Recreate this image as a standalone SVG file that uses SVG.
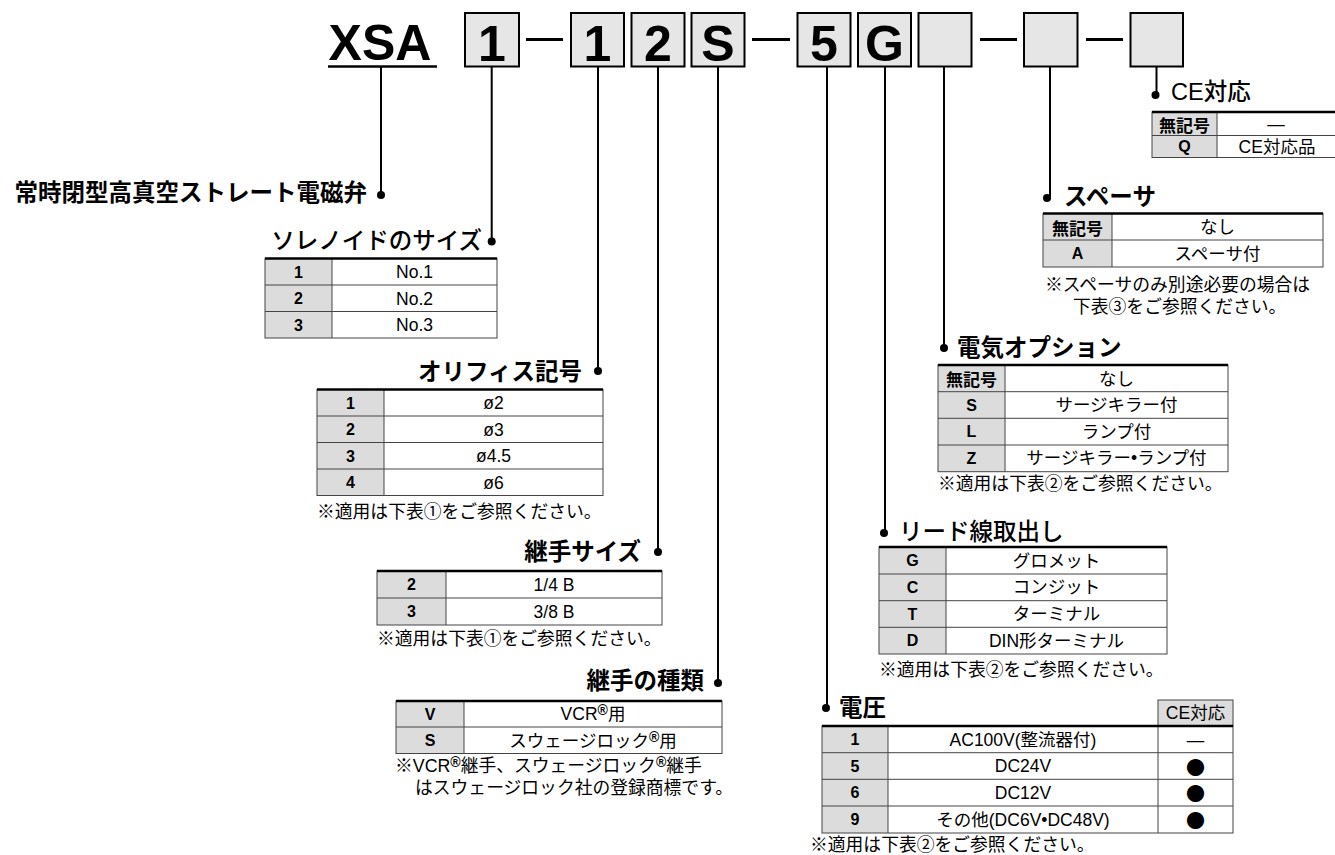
<svg xmlns="http://www.w3.org/2000/svg" width="1335" height="855" viewBox="0 0 1335 855">
<style>
.big{font-family:"Liberation Sans",Arial,sans-serif;font-weight:700;font-size:50px;text-anchor:middle;fill:#000}
.box{fill:#e6e6e6;stroke:#000;stroke-width:2}
.h{font-family:"Liberation Sans","Noto Sans CJK JP",sans-serif;font-size:23.5px;font-weight:700;dominant-baseline:central;fill:#000}
.hm{font-weight:500}
.e{text-anchor:end}
.v{font-family:"Liberation Sans","Noto Sans CJK JP",sans-serif;font-size:17.5px;text-anchor:middle;dominant-baseline:central;fill:#000}
.b{font-family:"Noto Sans CJK JP",sans-serif;font-size:19px}
.k{font-family:"Liberation Sans",Arial,sans-serif;font-size:16px;font-weight:700;text-anchor:middle;dominant-baseline:central;fill:#000}
.kj{font-family:"Noto Sans CJK JP",sans-serif;font-size:17px;font-weight:700;text-anchor:middle;dominant-baseline:central;fill:#000}
.n{font-family:"Liberation Sans","Noto Sans CJK JP",sans-serif;font-size:17.8px;dominant-baseline:central;fill:#000}
.kc{fill:#dcdcdc}
.ln{stroke:#444;stroke-width:1;fill:none}
.top{stroke:#000;stroke-width:2.5}
.cn{stroke:#000;stroke-width:2;fill:none}
.dot{fill:#000}
.dash{stroke:#000;stroke-width:3}
.r{font-size:14px;font-weight:700}
</style>

<g id="title">
<text class="big" x="380" y="60" font-size="52">XSA</text>
<line x1="328" y1="66.5" x2="437" y2="66.5" stroke="#000" stroke-width="2.5"/>
</g>

<g id="code-boxes">
<rect class="box" x="465" y="13" width="54" height="53.5"/>
<text class="big" x="492" y="61">1</text>
<line class="dash" x1="526" y1="39.5" x2="563" y2="39.5"/>
<rect class="box" x="571" y="13" width="53" height="53.5"/>
<text class="big" x="597.5" y="61">1</text>
<rect class="box" x="631.5" y="13" width="53" height="53.5"/>
<text class="big" x="658" y="61">2</text>
<rect class="box" x="691.5" y="13" width="53" height="53.5"/>
<text class="big" x="718" y="61">S</text>
<line class="dash" x1="752" y1="39.5" x2="790" y2="39.5"/>
<rect class="box" x="797.5" y="13" width="53" height="53.5"/>
<text class="big" x="824" y="61">5</text>
<rect class="box" x="858" y="13" width="53" height="53.5"/>
<text class="big" x="884.5" y="61">G</text>
<rect class="box" x="918.5" y="13" width="53" height="53.5"/>
<line class="dash" x1="980" y1="39.5" x2="1017" y2="39.5"/>
<rect class="box" x="1024" y="13" width="53.5" height="53.5"/>
<line class="dash" x1="1086" y1="39.5" x2="1123" y2="39.5"/>
<rect class="box" x="1130.5" y="13" width="52.5" height="53.5"/>
</g>

<g id="connectors">
<line class="cn" x1="381" y1="67" x2="381" y2="195"/><circle class="dot" cx="381" cy="195" r="4"/>
<line class="cn" x1="491.7" y1="67" x2="491.7" y2="241.5"/><circle class="dot" cx="491.7" cy="241.5" r="4"/>
<line class="cn" x1="598" y1="67" x2="598" y2="371"/><circle class="dot" cx="598" cy="371" r="4"/>
<line class="cn" x1="658" y1="67" x2="658" y2="552"/><circle class="dot" cx="658" cy="552" r="4"/>
<line class="cn" x1="718" y1="67" x2="718" y2="683"/><circle class="dot" cx="718" cy="683" r="4"/>
<line class="cn" x1="827" y1="67" x2="827" y2="708"/><circle class="dot" cx="826" cy="708" r="4"/>
<line class="cn" x1="885" y1="67" x2="885" y2="533"/><circle class="dot" cx="884" cy="533" r="4"/>
<line class="cn" x1="944" y1="67" x2="944" y2="348"/><circle class="dot" cx="944" cy="348" r="4"/>
<line class="cn" x1="1050" y1="67" x2="1050" y2="198"/><circle class="dot" cx="1047" cy="198" r="4"/>
<line class="cn" x1="1156.5" y1="67" x2="1156.5" y2="94"/><circle class="dot" cx="1155.5" cy="95" r="4"/>
</g>

<g id="n-series">
<text class="h e" x="367" y="193">常時閉型高真空ストレート電磁弁</text>
</g>

<g id="n-solenoid">
<text class="h hm e" x="482" y="241">ソレノイドのサイズ</text>
<rect class="kc" x="265" y="258.5" width="67" height="79.5"/>
<rect class="ln" x="265" y="258.5" width="232" height="79.5"/>
<line class="ln" x1="332" y1="258.5" x2="332" y2="338"/>
<line class="ln" x1="265" y1="285" x2="497" y2="285"/>
<line class="ln" x1="265" y1="311.5" x2="497" y2="311.5"/>
<line class="top" x1="265" y1="258.5" x2="497" y2="258.5"/>
<text class="k" x="298.5" y="272">1</text><text class="v" x="414.5" y="272">No.1</text>
<text class="k" x="298.5" y="298.5">2</text><text class="v" x="414.5" y="298.5">No.2</text>
<text class="k" x="298.5" y="325">3</text><text class="v" x="414.5" y="325">No.3</text>
</g>

<g id="n-orifice">
<text class="h e" x="582" y="372">オリフィス記号</text>
<rect class="kc" x="317" y="389.5" width="67" height="106"/>
<rect class="ln" x="317" y="389.5" width="286" height="106"/>
<line class="ln" x1="384" y1="389.5" x2="384" y2="495.5"/>
<line class="ln" x1="317" y1="416" x2="603" y2="416"/>
<line class="ln" x1="317" y1="442.5" x2="603" y2="442.5"/>
<line class="ln" x1="317" y1="469" x2="603" y2="469"/>
<line class="top" x1="317" y1="389.5" x2="603" y2="389.5"/>
<text class="k" x="350.5" y="403">1</text><text class="v" x="493.5" y="403">ø2</text>
<text class="k" x="350.5" y="429.5">2</text><text class="v" x="493.5" y="429.5">ø3</text>
<text class="k" x="350.5" y="456">3</text><text class="v" x="493.5" y="456">ø4.5</text>
<text class="k" x="350.5" y="482.5">4</text><text class="v" x="493.5" y="482.5">ø6</text>
<text class="n" x="317" y="512">※適用は下表①をご参照ください。</text>
</g>

<g id="n-port-size">
<text class="h e" x="641" y="552">継手サイズ</text>
<rect class="kc" x="377" y="571" width="69" height="54"/>
<rect class="ln" x="377" y="571" width="285" height="54"/>
<line class="ln" x1="446" y1="571" x2="446" y2="625"/>
<line class="ln" x1="377" y1="598" x2="662" y2="598"/>
<line class="top" x1="377" y1="571" x2="662" y2="571"/>
<text class="k" x="411.5" y="584.5">2</text><text class="v" x="554" y="584.5">1/4 B</text>
<text class="k" x="411.5" y="611.5">3</text><text class="v" x="554" y="611.5">3/8 B</text>
<text class="n" x="377" y="639">※適用は下表①をご参照ください。</text>
</g>

<g id="n-port-type">
<text class="h e" x="704" y="681">継手の種類</text>
<rect class="kc" x="396" y="701" width="68" height="52.5"/>
<rect class="ln" x="396" y="701" width="326" height="52.5"/>
<line class="ln" x1="464" y1="701" x2="464" y2="753.5"/>
<line class="ln" x1="396" y1="727" x2="722" y2="727"/>
<line class="top" x1="396" y1="701" x2="722" y2="701"/>
<text class="k" x="430" y="714">V</text><text class="v" x="593" y="714">VCR<tspan class="r" dy="-4">®</tspan><tspan dy="4">用</tspan></text>
<text class="k" x="430" y="740.5">S</text><text class="v" x="593" y="740.5">スウェージロック<tspan class="r" dy="-4">®</tspan><tspan dy="4">用</tspan></text>
<text class="n" x="395" y="766">※VCR<tspan class="r" dy="-4">®</tspan><tspan dy="4">継手、スウェージロック</tspan><tspan class="r" dy="-4">®</tspan><tspan dy="4">継手</tspan></text>
<text class="n" x="415" y="788">はスウェージロック社の登録商標です。</text>
</g>

<g id="n-ce">
<text class="h hm" x="1171" y="92">CE対応</text>
<rect class="kc" x="1152" y="112" width="65" height="45.5"/>
<rect class="ln" x="1152" y="112" width="190" height="45.5"/>
<line class="ln" x1="1217" y1="112" x2="1217" y2="157.5"/>
<line class="ln" x1="1152" y1="135.5" x2="1336" y2="135.5"/>
<line class="top" x1="1152" y1="112" x2="1336" y2="112"/>
<text class="kj" x="1184.5" y="124">無記号</text><text class="v" x="1276" y="124">―</text>
<text class="k" x="1184.5" y="146.5">Q</text><text class="v" x="1277" y="146.5">CE対応品</text>
</g>

<g id="n-spacer">
<text class="h" x="1064" y="197">スペーサ</text>
<rect class="kc" x="1043" y="213.5" width="69" height="53.5"/>
<rect class="ln" x="1043" y="213.5" width="280" height="53.5"/>
<line class="ln" x1="1112" y1="213.5" x2="1112" y2="267"/>
<line class="ln" x1="1043" y1="240" x2="1323" y2="240"/>
<line class="top" x1="1043" y1="213.5" x2="1323" y2="213.5"/>
<text class="kj" x="1077.5" y="227">無記号</text><text class="v" x="1217.5" y="227">なし</text>
<text class="k" x="1077.5" y="253.5">A</text><text class="v" x="1217.5" y="253.5">スペーサ付</text>
<text class="n" x="1045" y="285">※スペーサのみ別途必要の場合は</text>
<text class="n" x="1073" y="307">下表③をご参照ください。</text>
</g>

<g id="n-electrical">
<text class="h" x="957" y="348">電気オプション</text>
<rect class="kc" x="938" y="365" width="67" height="106.7"/>
<rect class="ln" x="938" y="365" width="290" height="106.7"/>
<line class="ln" x1="1005" y1="365" x2="1005" y2="471.7"/>
<line class="ln" x1="938" y1="391.7" x2="1228" y2="391.7"/>
<line class="ln" x1="938" y1="418.3" x2="1228" y2="418.3"/>
<line class="ln" x1="938" y1="445" x2="1228" y2="445"/>
<line class="top" x1="938" y1="365" x2="1228" y2="365"/>
<text class="kj" x="971.5" y="378.5">無記号</text><text class="v" x="1116.5" y="378.5">なし</text>
<text class="k" x="971.5" y="405">S</text><text class="v" x="1116.5" y="405">サージキラー付</text>
<text class="k" x="971.5" y="431.7">L</text><text class="v" x="1116.5" y="431.7">ランプ付</text>
<text class="k" x="971.5" y="458.3">Z</text><text class="v" x="1116.5" y="458.3">サージキラー•ランプ付</text>
<text class="n" x="938" y="484">※適用は下表②をご参照ください。</text>
</g>

<g id="n-lead">
<text class="h hm" x="899" y="532">リード線取出し</text>
<rect class="kc" x="879" y="547" width="67" height="107"/>
<rect class="ln" x="879" y="547" width="288" height="107"/>
<line class="ln" x1="946" y1="547" x2="946" y2="654"/>
<line class="ln" x1="879" y1="574" x2="1167" y2="574"/>
<line class="ln" x1="879" y1="600.7" x2="1167" y2="600.7"/>
<line class="ln" x1="879" y1="627.3" x2="1167" y2="627.3"/>
<line class="top" x1="879" y1="547" x2="1167" y2="547"/>
<text class="k" x="912.5" y="560.5">G</text><text class="v" x="1056.5" y="560.5">グロメット</text>
<text class="k" x="912.5" y="587.3">C</text><text class="v" x="1056.5" y="587.3">コンジット</text>
<text class="k" x="912.5" y="614">T</text><text class="v" x="1056.5" y="614">ターミナル</text>
<text class="k" x="912.5" y="640.7">D</text><text class="v" x="1056.5" y="640.7">DIN形ターミナル</text>
<text class="n" x="879" y="670">※適用は下表②をご参照ください。</text>
</g>

<g id="n-voltage">
<text class="h" x="839" y="708">電圧</text>
<rect x="1158" y="700" width="75" height="26" fill="#dcdcdc" stroke="#444" stroke-width="1"/>
<text class="v" x="1195.5" y="713">CE対応</text>
<rect class="kc" x="822" y="726" width="66" height="107"/>
<rect class="ln" x="822" y="726" width="411" height="107"/>
<line class="ln" x1="888" y1="726" x2="888" y2="833"/>
<line class="ln" x1="1158" y1="726" x2="1158" y2="833"/>
<line class="ln" x1="822" y1="752.7" x2="1233" y2="752.7"/>
<line class="ln" x1="822" y1="779.3" x2="1233" y2="779.3"/>
<line class="ln" x1="822" y1="806" x2="1233" y2="806"/>
<line class="top" x1="822" y1="726" x2="1233" y2="726"/>
<text class="k" x="855" y="739.5">1</text><text class="v" x="1023" y="739.5">AC100V(整流器付)</text><text class="v" x="1195.5" y="739.5">―</text>
<text class="k" x="855" y="766">5</text><text class="v" x="1023" y="766">DC24V</text><text class="v b" x="1195.5" y="766">●</text>
<text class="k" x="855" y="792.7">6</text><text class="v" x="1023" y="792.7">DC12V</text><text class="v b" x="1195.5" y="792.7">●</text>
<text class="k" x="855" y="819.5">9</text><text class="v" x="1023" y="819.5">その他(DC6V•DC48V)</text><text class="v b" x="1195.5" y="819.5">●</text>
<text class="n" x="810" y="845">※適用は下表②をご参照ください。</text>
</g>
</svg>
